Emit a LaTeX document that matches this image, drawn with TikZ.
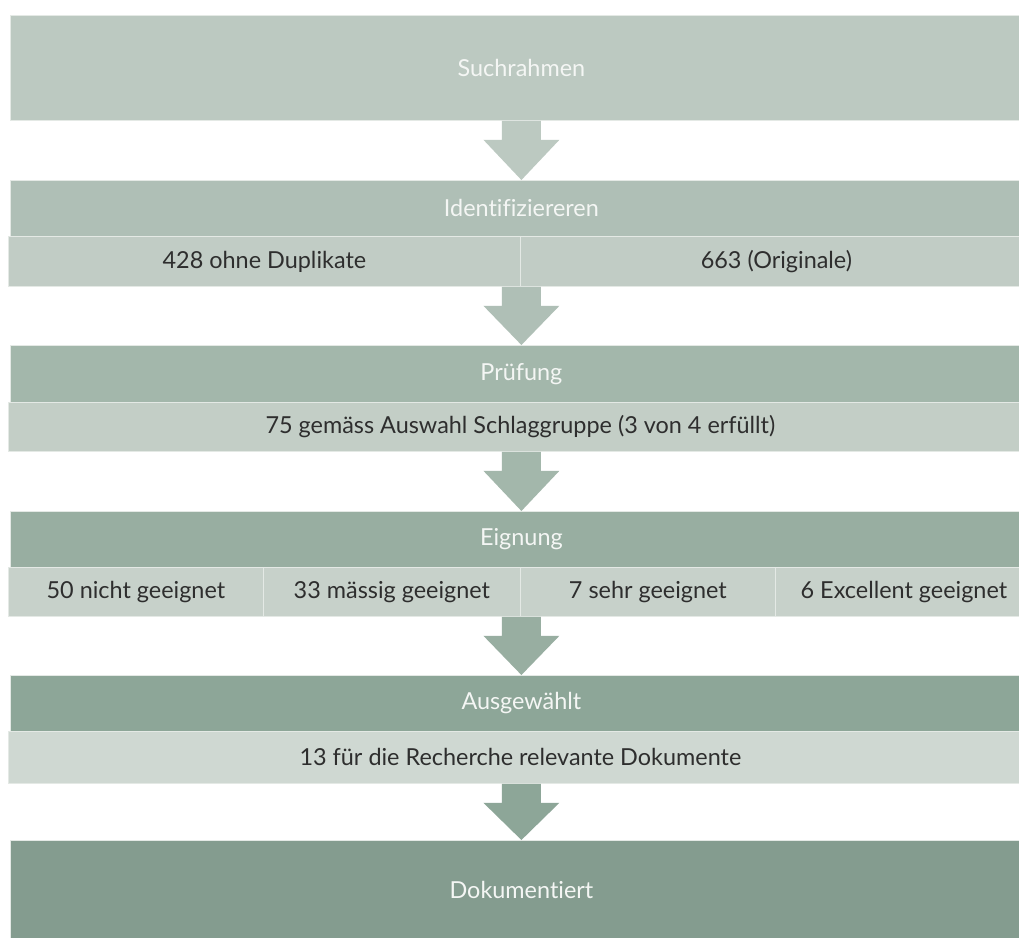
\documentclass[tikz,border=0pt]{standalone}
\usepackage{fontspec}
\setmainfont{Lato}[Ligatures=NoCommon]
\usetikzlibrary{calc}
\definecolor{cA}{HTML}{BCC9C1}
\definecolor{cBh}{HTML}{AFBFB6}
\definecolor{cBs}{HTML}{C1CCC5}
\definecolor{cCh}{HTML}{A3B7AB}
\definecolor{cCs}{HTML}{C3CEC6}
\definecolor{cDh}{HTML}{98AEA1}
\definecolor{cDs}{HTML}{C7D1CA}
\definecolor{cEh}{HTML}{8DA698}
\definecolor{cEs}{HTML}{CFD8D2}
\definecolor{cF}{HTML}{849C8F}
\definecolor{edge}{HTML}{E4E9E5}
\definecolor{hdrtext}{HTML}{F4F6F4}
\definecolor{subtext}{HTML}{2E2E2E}
\tikzset{
  box/.style={draw=edge, line width=0.8bp, inner sep=0pt, anchor=north west,
    font=\fontsize{23.5}{27}\selectfont},
  hdr/.style={box, fill=#1, text=hdrtext},
  subcell/.style={box, fill=#1, text=subtext},
}
\newcommand\flowarrow[3]{%
  \fill[#1] ($(#2)+(-19.5,0)$) -- ($(#2)+(19.5,0)$) -- ($(#2)+(19.5,19)$)
    -- ($(#2)+(38,19)$) -- (#3) -- ($(#2)+(-38,19)$) -- ($(#2)+(-19.5,19)$) -- cycle;}
\begin{document}
\begin{tikzpicture}[x=1bp,y=-1bp]
\useasboundingbox (0,0) rectangle (1019,938);
\clip (0,0) rectangle (1019,938);
\fill[white] (0,0) rectangle (1019,938);
% Suchrahmen
\node[hdr=cA, minimum width=1022bp, minimum height=105bp] (such) at (10,15) {Suchrahmen};
% Identifizieren
\node[hdr=cBh, minimum width=1022bp, minimum height=56bp] (ident) at (10,180) {Identifiziereren};
\node[subcell=cBs, minimum width=512bp, minimum height=50bp] (id1) at (8,236) {428 ohne Duplikate};
\node[subcell=cBs, minimum width=512bp, minimum height=50bp] (id2) at (520,236) {663 (Originale)};
% Pruefung
\node[hdr=cCh, minimum width=1022bp, minimum height=57bp] (pruef) at (10,345) {Prüfung};
\node[subcell=cCs, minimum width=1024bp, minimum height=49bp] (pr1) at (8,402) {75 gemäss Auswahl Schlaggruppe (3 von 4 erfüllt)};
% Eignung
\node[hdr=cDh, minimum width=1022bp, minimum height=56bp] (eign) at (10,511) {Eignung};
\node[subcell=cDs, minimum width=255bp, minimum height=49bp] (eg1) at (8,567) {50 nicht geeignet};
\node[subcell=cDs, minimum width=257bp, minimum height=49bp] (eg2) at (263,567) {33 mässig geeignet};
\node[subcell=cDs, minimum width=255bp, minimum height=49bp] (eg3) at (520,567) {7 sehr geeignet};
\node[subcell=cDs, minimum width=257bp, minimum height=49bp] (eg4) at (775,567) {6 Excellent geeignet};
% Ausgewaehlt
\node[hdr=cEh, minimum width=1022bp, minimum height=56bp] (ausg) at (10,675) {Ausgewählt};
\node[subcell=cEs, minimum width=1024bp, minimum height=52bp] (au1) at (8,731) {13 für die Recherche relevante Dokumente};
% Dokumentiert
\node[hdr=cF, minimum width=1022bp, minimum height=100bp] (doku) at (10,840) {Dokumentiert};
% arrow start points
\coordinate (s1) at (such.south);
\coordinate (s2) at (ident.center |- id1.south);
\coordinate (s3) at (pruef.center |- pr1.south);
\coordinate (s4) at (eign.center |- eg1.south);
\coordinate (s5) at (ausg.center |- au1.south);
\flowarrow{cA}{s1}{ident.north}
\flowarrow{cBh}{s2}{pruef.north}
\flowarrow{cCh}{s3}{eign.north}
\flowarrow{cDh}{s4}{ausg.north}
\flowarrow{cEh}{s5}{doku.north}
\end{tikzpicture}
\end{document}
